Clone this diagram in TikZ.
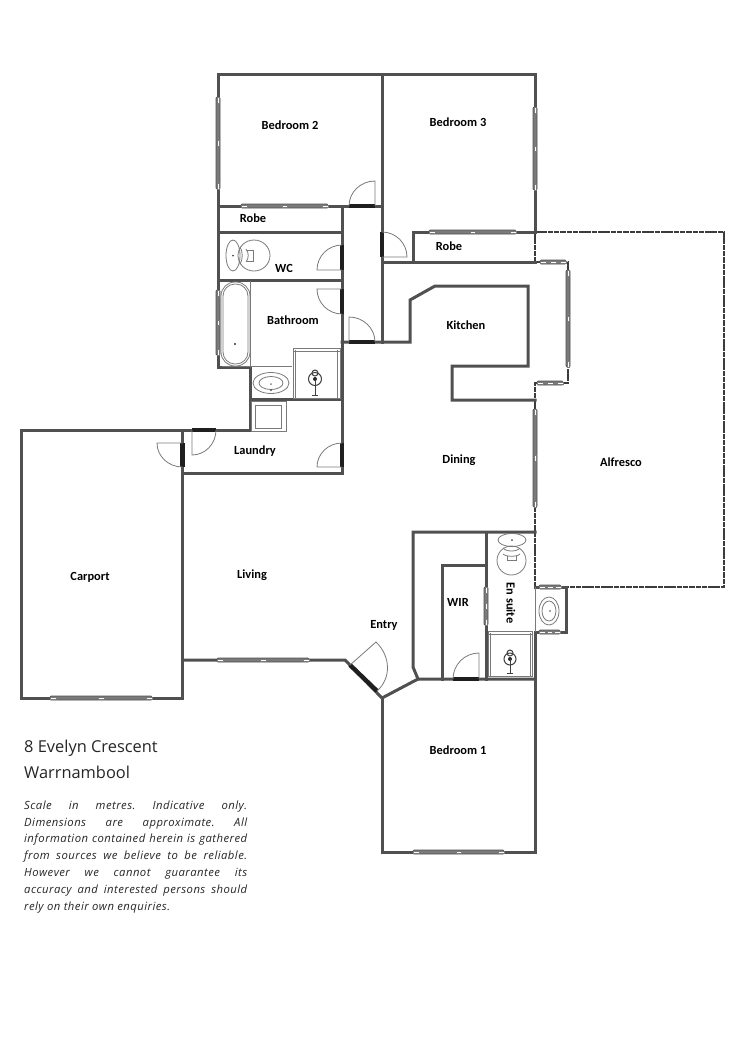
\documentclass[tikz,border=0pt]{standalone}
\usepackage{fontspec}
\usepackage{xcolor}
\setmainfont{Carlito}
\newfontfamily\titlefont{Open Sans}
\newfontfamily\notefont[ItalicFont={Open Sans Italic},LetterSpace=4]{Open Sans}
\definecolor{wallc}{HTML}{505050}
\definecolor{fixc}{HTML}{7A7A7A}
\tikzset{
  wall/.style={draw=wallc,line width=3pt,line join=miter,line cap=rect},
  hatchwall/.style={draw=wallc!75!black,line width=2.9pt,dash pattern=on 5.5pt off 0.8pt},
  jamb/.style={draw=black!88,line width=4.4pt},
  swing/.style={draw=fixc,line width=0.8pt},
  fixture/.style={draw=fixc,line width=0.8pt},
  fixdark/.style={draw=black!75,line width=1pt},
  roomlabel/.style={font=\fontsize{12.4}{14}\selectfont\bfseries,text=black,inner sep=0pt},
  titleline/.style={font=\titlefont\fontsize{16.4}{18}\selectfont,text=black!85,anchor=west,inner sep=0pt},
  noteline/.style={anchor=west,inner sep=0pt,text=black!85,font=\notefont\itshape\fontsize{11.3}{12}\selectfont}
}
% sliding window, horizontal: x1 x2 y
\newcommand{\hwin}[3]{%
  \fill[white] (#1,#3-2.6) rectangle (#2,#3+2.6);
  \draw[draw=wallc,fill=fixc,line width=0.7pt,rounded corners=1pt] (#1,#3-2) rectangle (#2,#3+2);
  \foreach \f in {0,0.5,1}{\pgfmathsetmacro{\xc}{#1+3+\f*(#2-#1-6)}
    \draw[fill=white,draw=fixc,line width=0.4pt] (\xc-2.8,#3-1.3) rectangle (\xc+2.8,#3+1.3);}
}
% sliding window, vertical: y1 y2 x
\newcommand{\vwin}[3]{%
  \fill[white] (#3-2.6,#1) rectangle (#3+2.6,#2);
  \draw[draw=wallc,fill=fixc,line width=0.7pt,rounded corners=1pt] (#3-2,#1) rectangle (#3+2,#2);
  \foreach \f in {0,0.5,1}{\pgfmathsetmacro{\yc}{#1+3+\f*(#2-#1-6)}
    \draw[fill=white,draw=fixc,line width=0.4pt] (#3-1.3,\yc-2.8) rectangle (#3+1.3,\yc+2.8);}
}
% door: hinge, leaf end, closed end
\newcommand{\doorswing}[6]{%
  \draw[jamb] (#1,#2) -- (#5,#6);
  \draw[swing] (#1,#2) -- (#3,#4)
    .. controls ({#3+.5523*(#5-#1)},{#4+.5523*(#6-#2)}) and ({#5+.5523*(#3-#1)},{#6+.5523*(#4-#2)}) .. (#5,#6);
}
\begin{document}
\begin{tikzpicture}[x=1pt,y=-1pt]
\useasboundingbox (0,0) rectangle (750,1061);
\fill[white] (0,0) rectangle (750,1061);

% alfresco hatched outline
\draw[hatchwall] (535,232) -- (724,232) -- (724,587) -- (566,587);
\draw[hatchwall] (535,232) -- (535,262) -- (568,262) -- (568,383) -- (535,383) -- (535,587);

% main walls
\draw[wall] (218,74) -- (535,74);
\draw[wall] (535,74) -- (535,232);
\draw[wall] (218,74) -- (218,367) -- (250,367) -- (250,430);
\draw[wall] (382,74) -- (382,342);
\draw[wall] (218,206) -- (382,206);
\draw[wall] (342,206) -- (342,473) -- (183,473);
\draw[wall] (218,232) -- (342,232);
\draw[wall] (218,280) -- (342,280);
\draw[wall] (250,399) -- (342,399);
\draw[wall] (21,430) -- (250,430);
\draw[wall] (21,430) -- (21,698) -- (182.500,698);
\draw[wall] (182.500,430) -- (182.500,698);
\draw[wall] (183,660) -- (345,660) -- (382,698) -- (418,679) -- (535,679);
\draw[wall] (382,698) -- (382,852) -- (535,852) -- (535,632);
\draw[wall] (418,679) -- (413,667) -- (413,532) -- (535,532);
\draw[wall] (486,532) -- (486,679);
\draw[wall] (442,679) -- (442,565) -- (486,565);
\draw[wall] (413,262) -- (413,232) -- (535,232);
\draw[wall] (382,262) -- (535,262);
\draw[wall] (342,342) -- (410,342) -- (410,300) -- (435,286) -- (528,286) -- (528,366) -- (452,366) -- (452,400) -- (535,400);
\draw[wall] (535,587) -- (566,587) -- (566,632) -- (535,632);

% windows
\vwin{97}{189}{218}
\vwin{107}{190}{535}
\hwin{241}{328}{206}
\hwin{429}{516}{232}
\vwin{290}{355}{218}
\hwin{50}{152}{698}
\hwin{217}{309}{660}
\hwin{413}{504}{852}
\vwin{409}{507}{535}
\vwin{587}{625}{486}
\hwin{540}{566}{262}
\hwin{537}{563}{383}
\vwin{270}{367}{568}
\hwin{539}{561}{587}
\hwin{539}{560}{632}

% doors
\doorswing{375}{206}{375}{181}{349}{206}
\doorswing{382}{257}{407}{257}{382}{232}
\doorswing{342}{270}{317}{270}{342}{245}
\doorswing{342}{289}{317}{289}{342}{314}
\doorswing{349}{342}{349}{317}{375}{342}
\doorswing{192}{430}{192}{455}{216}{430}
\doorswing{182.500}{443}{157}{443}{182.500}{467}
\doorswing{342}{467}{317}{467}{342}{443}
\doorswing{350}{665}{376}{642}{377}{691}
\doorswing{479}{679}{479}{653}{453}{679}

% WC toilet
\draw[fixture] (233,255.500) ellipse [x radius=7,y radius=15.500];
\draw[fixture] (254,255.500) ellipse [x radius=16,y radius=15.500];
\draw[fixture] (240,247) .. controls (243,251) and (243,260) .. (240,264);
\draw[fixture] (246,249) .. controls (249,253) and (249,258) .. (246,262);
\draw[fixture] (247,250) -- (253,250) -- (253,261) -- (247,261);
\fill[black!70] (233,255.500) circle (1);

% bath
\draw[fixture] (250,281) -- (250,366) -- (222,366);
\draw[fixture,rounded corners=14pt] (221,282) rectangle (250,366);
\draw[fixture,rounded corners=12pt] (223,284) rectangle (248,364);
\fill[black!80] (235,344) circle (1.200);

% bathroom vanity, basin
\draw[fixture] (250,366) -- (292,366);
\draw[fixture] (271,383) ellipse [x radius=18,y radius=10.500];
\draw[fixture] (271,383) ellipse [x radius=12,y radius=6.500];
\fill[black!70] (271,390) circle (1);
\fill[black!50] (271,384) circle (1);

% bathroom shower
\draw[fixture] (293,348) rectangle (340,398);
\draw[fixture] (295,350) -- (295,398) (337,350) -- (337,398) (293,351) -- (340,351);
\draw[fixdark] (315,379) circle (6.500);
\draw[fixdark] (315,373) circle (3);
\fill[black!85] (315,379) circle (2);
\draw[fixdark] (315,379) -- (315,395) (312,395) -- (318,395);

% washer
\draw[fixture] (251,401) rectangle (286,431);
\draw[fixture] (255,405) rectangle (281,428);

% en suite toilet
\draw[fixture] (512,540) ellipse [x radius=14,y radius=6.500];
\draw[fixture] (511.500,560.500) ellipse [x radius=14.500,y radius=14.500];
\draw[fixture] (503,548) .. controls (506,552) and (517,552) .. (520,548);
\draw[fixture] (503,554) .. controls (506,557) and (517,557) .. (520,554);
\draw[fixture] (507,556) -- (507,560) -- (516,560) -- (516,556);
\fill[black!70] (512,540) circle (1);

% en suite basin
\draw[fixture] (535,587) -- (535,632);
\draw[fixture] (549,611) ellipse [x radius=10,y radius=14];
\draw[fixture] (549,611) ellipse [x radius=7,y radius=10];
\fill[black!70] (550,611) circle (0.800);

% en suite shower
\draw[fixture] (488,631) rectangle (532,676);
\draw[fixture] (490,633) -- (490,676) (488,634) -- (532,634) (530,633) -- (530,676);
\draw[fixdark] (510,659) circle (6);
\draw[fixdark] (510,653) circle (3);
\fill[black!85] (510,659) circle (2);
\draw[fixdark] (510,659) -- (510,673) (507,673) -- (513,673);

% room labels
\node[roomlabel] (bed2) at (290,125) {Bedroom 2};
\node[roomlabel] (bed3) at (458,122) {Bedroom 3};
\node[roomlabel] (robeA) at (253,218) {Robe};
\node[roomlabel] (robeB) at (449,246) {Robe};
\node[roomlabel] (wc) at (284,268) {WC};
\node[roomlabel] (bath) at (293,320.500) {Bathroom};
\node[roomlabel] (kitchen) at (466,325) {Kitchen};
\node[roomlabel] (dining) at (459,460) {Dining};
\node[roomlabel] (alfresco) at (621,462) {Alfresco};
\node[roomlabel] (laundry) at (255,451) {Laundry};
\node[roomlabel] (carport) at (90,577) {Carport};
\node[roomlabel] (living) at (252,575) {Living};
\node[roomlabel] (entry) at (384,625) {Entry};
\node[roomlabel] (wir) at (458,602) {WIR};
\node[roomlabel,rotate=-90] (ensuite) at (511,603) {En suite};
\node[roomlabel] (bed1) at (458,750) {Bedroom 1};

% address
\node[titleline] (addrA) at (24,748) {8 Evelyn Crescent};
\node[titleline] (addrB) at (24,772) {Warrnambool};

% note
\node[noteline] (noteA) at (24,806.500) {\hbox to 223pt{Scale\hfil in\hfil metres.\hfil Indicative\hfil only.}};
\node[noteline] (noteB) at (24,823.500) {\hbox to 223pt{Dimensions\hfil are\hfil approximate.\hfil All}};
\node[noteline] (noteC) at (24,839.500) {\hbox to 223pt{information\hfil contained\hfil herein\hfil is\hfil gathered}};
\node[noteline] (noteD) at (24,856.500) {\hbox to 223pt{from\hfil sources\hfil we\hfil believe\hfil to\hfil be\hfil reliable.}};
\node[noteline] (noteE) at (24,873.500) {\hbox to 223pt{However\hfil we\hfil cannot\hfil guarantee\hfil its}};
\node[noteline] (noteF) at (24,890.500) {\hbox to 223pt{accuracy\hfil and\hfil interested\hfil persons\hfil should}};
\node[noteline] (noteG) at (24,907.500) {rely on their own enquiries.};
\end{tikzpicture}
\end{document}
